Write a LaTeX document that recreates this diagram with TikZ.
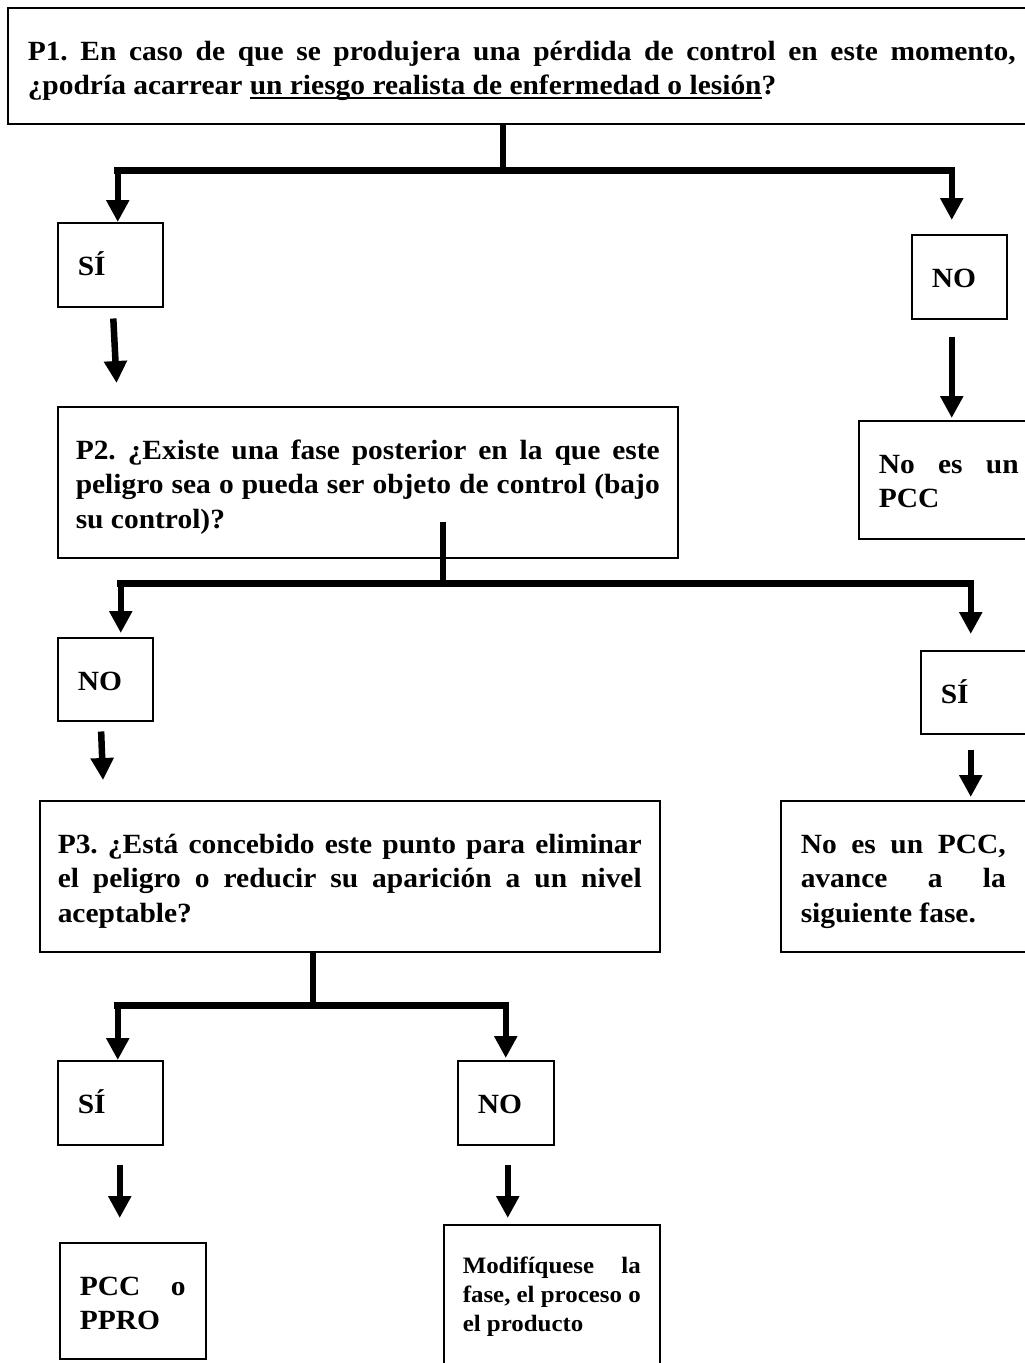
\documentclass[tikz,border=0pt]{standalone}
\usepackage{fontspec}
\usepackage{tikz}
\usetikzlibrary{arrows.meta,calc}

\newfontfamily\qfont[FakeStretch=1.06]{Liberation Serif}
\newcommand{\bigtxt}{\qfont\bfseries\fontsize{27.8pt}{34.4pt}\selectfont\frenchspacing}
\newcommand{\smalltxt}{\qfont\bfseries\fontsize{23.5pt}{29pt}\selectfont\frenchspacing}
% subrayado a profundidad fija
\newcommand{\subr}[1]{\setbox0\hbox{#1}\rlap{\rule[-4.6pt]{\wd0}{2.2pt}}\box0}

\tikzset{
  box/.style={draw,line width=1.5pt,anchor=north west,inner xsep=20pt,inner ysep=0pt,
    align=justify,font=\bigtxt,text height=52.5pt},
  stem/.style={line width=6.5pt},
  bar/.style={line width=7pt,line cap=rect},
  arrow/.style={line width=6.5pt,-{Triangle[width=22pt,length=22pt]}}
}

\begin{document}
\begin{tikzpicture}[x=1pt,y=-1pt]
  \useasboundingbox (0,0) rectangle (1025,1363);
  \clip (0,0) rectangle (1025,1363);

  % preguntas y respuestas
  \node[box,text width=988pt,text depth=63.5pt] (p1) at (7,7)
    {P1. En caso de que se produjera una pérdida de control en este momento,\linebreak
     ¿podría acarrear \subr{un riesgo realista de enfermedad o lesión}?};
  \node[box,text width=65pt,text depth=31.5pt] (sia) at (57,222) {SÍ};
  \node[box,text width=55pt,text depth=31.5pt] (noa) at (911,234) {NO};
  \node[box,inner xsep=18pt,text width=584pt,text depth=98.5pt] (p2) at (57,406)
    {P2. ¿Existe una fase posterior en la que este\linebreak
     peligro sea o pueda ser objeto de control (bajo\linebreak
     su control)?};
  \node[box,text width=140pt,text depth=65.5pt] (nopcc) at (858,420)
    {No es un\linebreak PCC};
  \node[box,text width=55pt,text depth=30.5pt] (nob) at (57,637) {NO};
  \node[box,text width=65pt,text depth=30.5pt] (sib) at (920,650) {SÍ};
  \node[box,inner xsep=18pt,text width=584pt,text depth=98.5pt] (p3) at (39,800)
    {P3. ¿Está concebido este punto para eliminar\linebreak
     el peligro o reducir su aparición a un nivel\linebreak
     aceptable?};
  \node[box,text width=205pt,text depth=98.5pt] (avance) at (780,800)
    {No es un PCC,\linebreak avance a la\linebreak siguiente fase.};
  \node[box,text width=65pt,text depth=31.5pt] (sic) at (57,1060) {SÍ};
  \node[box,text width=56pt,text depth=31.5pt] (noc) at (457,1060) {NO};
  \node[box,text width=106pt,text depth=63.5pt] (pcc) at (59,1242)
    {PCC o\linebreak PPRO};
  \node[box,font=\smalltxt,inner xsep=19pt,text width=178pt,text height=48.6pt,text depth=91.4pt] (mod) at (443,1224)
    {Modifíquese la\linebreak fase, el proceso o\linebreak el producto};

  % ramas de P1
  \coordinate (j1) at (503,170);
  \coordinate (d1) at ([xshift=7.5pt]sia.north);
  \coordinate (d2) at ([xshift=-7.5pt]noa.north);
  \draw[stem] (p1.south -| j1) -- (j1);
  \draw[bar] (j1 -| d1) -- (j1 -| d2);
  \draw[arrow] (j1 -| d1) -- (d1);
  \draw[arrow,shorten >=14pt] (j1 -| d2) -- (d2);

  % ramas de P2
  \coordinate (s2) at (443,522);
  \coordinate (j2) at (443,583);
  \coordinate (d3) at ([xshift=15.5pt]nob.north);
  \coordinate (d4) at ([xshift=-2.5pt]sib.north);
  \draw[stem] (s2) -- (j2);
  \draw[bar] (j2 -| d3) -- (j2 -| d4);
  \draw[arrow,shorten >=4pt] (j2 -| d3) -- (d3);
  \draw[arrow,shorten >=16pt] (j2 -| d4) -- (d4);

  % ramas de P3
  \coordinate (j3) at (313,1005);
  \coordinate (d5) at ([xshift=7.5pt]sic.north);
  \coordinate (d6) at (noc.north);
  \draw[stem] (p3.south -| j3) -- (j3);
  \draw[bar] (j3 -| d5) -- (j3 -| d6);
  \draw[arrow] (j3 -| d5) -- (d5);
  \draw[arrow,shorten >=2pt] (j3 -| d6) -- (d6);

  % flechas sueltas
  \draw[arrow,shorten <=11pt,shorten >=23pt] ($(sia.south)+(2.5,0)$) -- ($(sia.south |- p2.north)+(7.5,0)$);
  \draw[arrow,shorten <=17pt,shorten >=2pt] ($(noa.south)+(-7.5,0)$) -- ($(noa.south |- nopcc.north)+(-7.5,0)$);
  \draw[arrow,shorten <=10pt,shorten >=20pt] ($(nob.south)+(-4.5,0)$) -- ($(nob.south |- p3.north)+(-1.5,0)$);
  \draw[arrow,shorten <=15pt,shorten >=3pt] ($(sib.south)+(-2.5,0)$) -- ($(sib.south |- avance.north)+(-2.5,0)$);
  \draw[arrow,shorten <=19pt,shorten >=24pt] ($(sic.south)+(9.5,0)$) -- ($(sic.south |- pcc.north)+(9.5,0)$);
  \draw[arrow,shorten <=19pt,shorten >=6pt] ($(noc.south)+(2,0)$) -- ($(noc.south |- mod.north)+(2,0)$);
\end{tikzpicture}
\end{document}
